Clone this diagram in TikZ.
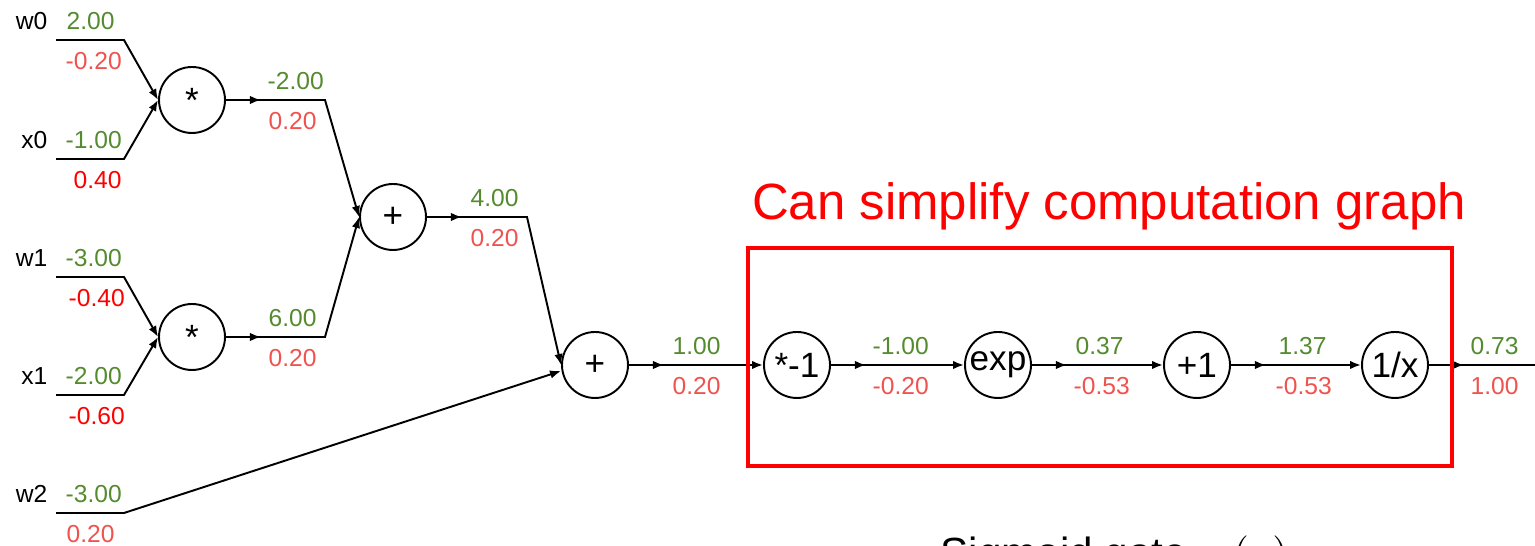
\documentclass[tikz,border=0pt]{standalone}
\usepackage{fontspec}
\setmainfont{Liberation Sans}
\usetikzlibrary{arrows.meta,positioning,decorations.markings}
\usepackage{xcolor}
\definecolor{fwdgreen}{HTML}{558B2F}
\definecolor{gradsalmon}{HTML}{EF5350}
\definecolor{gradred}{HTML}{FF0000}

\begin{document}
\begin{tikzpicture}[
  >={Latex[length=1.1mm,width=0.85mm]},
  gate/.style={circle, draw, line width=0.55pt, minimum size=0.66cm, inner sep=0pt, font=\fontsize{10}{12}\selectfont},
  arr/.style={->, line width=0.55pt},
  midarr/.style={line width=0.55pt, postaction={decorate}, decoration={markings, mark=at position 3.5mm with {\arrow{>}}}},
  val/.style={inner sep=0pt, anchor=base west, font=\fontsize{7}{8}\selectfont},
  fwd/.style={val, text=fwdgreen},
  grad/.style={val, text=gradsalmon},
  gradhi/.style={val, text=gradred},
  inname/.style={val, anchor=base east}
]
  \useasboundingbox (0,0) rectangle (15.35,5.46);

  \node[gate] (mul0) at (1.92,4.46) {*};
  \node[gate] (mul1) at (1.92,2.09) {*};
  \node[gate] (add0) at (3.93,3.29) {+};
  \node[gate] (add1) at (5.95,1.81) {+};
  \node[gate] (neg) at (7.97,1.81) {*-1};
  \node[gate] (expg) at (9.98,1.81) {exp};
  \node[gate] (plus1) at (11.97,1.81) {+1};
  \node[gate] (inv) at (13.95,1.81) {1/x};

  \coordinate (w0s) at (0.56,5.06);  \coordinate (w0b) at (1.24,5.06);
  \coordinate (x0s) at (0.56,3.87);  \coordinate (x0b) at (1.24,3.87);
  \coordinate (w1s) at (0.56,2.69);  \coordinate (w1b) at (1.24,2.69);
  \coordinate (x1s) at (0.56,1.51);  \coordinate (x1b) at (1.24,1.51);
  \coordinate (w2s) at (0.56,0.33);  \coordinate (w2b) at (1.24,0.33);
  \coordinate (m0b) at (3.25,4.46);
  \coordinate (m1b) at (3.25,2.09);
  \coordinate (a0b) at (5.27,3.29);
  \coordinate (outc) at (15.40,1.81);

  \draw[arr] (w0s) -- (w0b) -- (mul0.west);
  \draw[arr] (x0s) -- (x0b) -- (mul0.west);
  \draw[arr] (w1s) -- (w1b) -- (mul1.west);
  \draw[arr] (x1s) -- (x1b) -- (mul1.west);
  \draw[arr] (w2s) -- (w2b) -- ([yshift=-0.6mm]add1.west);
  \draw[arr, midarr] (mul0) -- (m0b) -- (add0.west);
  \draw[arr, midarr] (mul1) -- (m1b) -- (add0.west);
  \draw[arr, midarr] (add0) -- (a0b) -- (add1.west);
  \draw[arr, midarr] (add1) -- (neg);
  \draw[arr, midarr] (neg) -- (expg);
  \draw[arr, midarr] (expg) -- (plus1);
  \draw[arr, midarr] (plus1) -- (inv);
  \draw[midarr] (inv) -- (outc);

  \node[inname] (w0n) at (0.48,5.16) {w0};
  \node[inname] (x0n) at (0.48,3.97) {x0};
  \node[inname] (w1n) at (0.48,2.79) {w1};
  \node[inname] (x1n) at (0.48,1.61) {x1};
  \node[inname] (w2n) at (0.48,0.43) {w2};

  \node[fwd] (w0v) at (0.66,5.16) {2.00};
  \node[grad] (w0g) at (0.65,4.76) {-0.20};
  \node[fwd] (x0v) at (0.65,3.97) {-1.00};
  \node[gradhi] (x0g) at (0.73,3.57) {0.40};
  \node[fwd] (w1v) at (0.65,2.79) {-3.00};
  \node[gradhi] (w1g) at (0.68,2.39) {-0.40};
  \node[fwd] (x1v) at (0.65,1.61) {-2.00};
  \node[gradhi] (x1g) at (0.68,1.21) {-0.60};
  \node[fwd] (w2v) at (0.65,0.43) {-3.00};
  \node[grad] (w2g) at (0.66,0.03) {0.20};

  \node[fwd] (m0v) at (2.67,4.56) {-2.00};
  \node[grad] (m0g) at (2.68,4.16) {0.20};
  \node[fwd] (m1v) at (2.68,2.19) {6.00};
  \node[grad] (m1g) at (2.68,1.79) {0.20};
  \node[fwd] (a0v) at (4.70,3.39) {4.00};
  \node[grad] (a0g) at (4.70,2.99) {0.20};
  \node[fwd] (a1v) at (6.72,1.91) {1.00};
  \node[grad] (a1g) at (6.72,1.51) {0.20};
  \node[fwd] (negv) at (8.72,1.91) {-1.00};
  \node[grad] (negg) at (8.72,1.51) {-0.20};
  \node[fwd] (expv) at (10.75,1.91) {0.37};
  \node[grad] (expgr) at (10.73,1.51) {-0.53};
  \node[fwd] (p1v) at (12.78,1.91) {1.37};
  \node[grad] (p1g) at (12.75,1.51) {-0.53};
  \node[fwd] (invv) at (14.70,1.91) {0.73};
  \node[grad] (invg) at (14.70,1.51) {1.00};

  \draw[gradred, line width=1.15pt] (7.48,0.80) rectangle (14.52,2.98);
  \node[text=gradred, inner sep=0pt, anchor=base, font=\fontsize{14.5}{17}\selectfont] (note) at (11.09,3.26) {Can simplify computation graph};

  \begin{scope}
    \clip (0,0) rectangle (15.35,5.46);
    \node[inner sep=0pt, anchor=base west, font=\fontsize{12}{14}\selectfont] (sig) at (9.40,-0.22) {Sigmoid gate\enspace $\sigma(x)$};
  \end{scope}
\end{tikzpicture}
\end{document}
